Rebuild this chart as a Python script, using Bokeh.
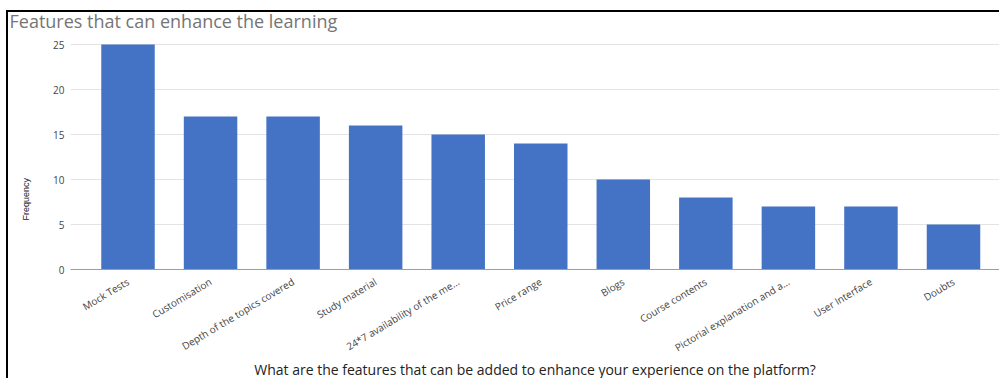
import math

from bokeh.embed import file_html
from bokeh.models import FixedTicker, InlineStyleSheet, Range1d, Title
from bokeh.plotting import figure
from bokeh.resources import INLINE

# Survey answers: features that would improve the learning platform
features = [
    "Mock Tests",
    "Customisation",
    "Depth of the topics covered",
    "Study material",
    "24*7 availability of the me...",
    "Price range",
    "Blogs",
    "Course contents",
    "Pictorial explanation and a...",
    "User Interface",
    "Doubts",
]
frequency = [25, 17, 17, 16, 15, 14, 10, 8, 7, 7, 5]
y_ticks = [0, 5, 10, 15, 20, 25]

chart_title = "Features that can enhance the learning"
x_title = "What are the features that can be added to enhance your experience on the platform?"
y_title = "Frequency"

# Canvas and plot-area geometry (pixels)
W, H = 999, 378
FRAME_LEFT, FRAME_TOP, FRAME_BOTTOM = 70, 35, 269
CAT_PX = 82.55          # pixels per category slot
FIRST_CENTER_PX = 127.5  # centre of the first bar
Y_PX = 9.0              # pixels per frequency unit

x_start = (FRAME_LEFT - FIRST_CENTER_PX) / CAT_PX
x_end = x_start + (W - FRAME_LEFT) / CAT_PX
y_end = (FRAME_BOTTOM - FRAME_TOP) / Y_PX

p = figure(
    width=W,
    height=H,
    output_backend="svg",
    toolbar_location=None,
    x_range=Range1d(x_start, x_end),
    y_range=Range1d(0, y_end),
    min_border_left=FRAME_LEFT,
    min_border_right=0,
    min_border_top=FRAME_TOP,
    min_border_bottom=H - FRAME_BOTTOM,
)
p.outline_line_color = None
p.background_fill_color = "white"
p.border_fill_color = "white"

idx = list(range(len(features)))
p.vbar(x=idx, top=frequency, bottom=0, width=0.648,
       fill_color="#4472C4", line_color=None)

# y axis
p.yaxis.ticker = FixedTicker(ticks=y_ticks)
p.yaxis.axis_line_color = None
p.yaxis.major_tick_line_color = None
p.yaxis.major_tick_out = 0
p.yaxis.major_tick_in = 0
p.yaxis.minor_tick_line_color = None
p.yaxis.minor_tick_out = 0
p.yaxis.major_label_text_font = "Open Sans"
p.yaxis.major_label_text_font_size = "10px"
p.yaxis.major_label_text_color = "#444444"
p.yaxis.major_label_standoff = 6

# x axis with the category names
p.xaxis.ticker = FixedTicker(ticks=idx)
p.xaxis.major_label_overrides = {i: name for i, name in zip(idx, features)}
p.xaxis.major_label_orientation = math.radians(31)
p.xaxis.axis_line_color = "#9e9e9e"
p.xaxis.axis_line_width = 1
p.xaxis.major_tick_line_color = None
p.xaxis.major_tick_out = 0
p.xaxis.major_tick_in = 0
p.xaxis.minor_tick_line_color = None
p.xaxis.minor_tick_out = 0
p.xaxis.major_label_text_font = "Open Sans"
p.xaxis.major_label_text_font_size = "10px"
p.xaxis.major_label_text_color = "#444444"
p.xaxis.major_label_standoff = 11

p.xgrid.visible = False
p.ygrid.ticker = FixedTicker(ticks=y_ticks)
p.ygrid.grid_line_color = "#e3e3e3"

# Chart title, top-left
p.title = Title(text=chart_title, align="left", offset=-61,
                text_font="Open Sans", text_font_size="18px",
                text_font_style="normal", text_color="#757575", standoff=6)

# Axis titles
p.add_layout(Title(text=x_title, align="center", offset=0,
                   text_font="Open Sans", text_font_size="14px",
                   text_font_style="normal", text_color="#222222",
                   standoff=-11), "below")
p.add_layout(Title(text=y_title, align="left", offset=49,
                   vertical_align="top",
                   text_font="Liberation Sans Narrow, Liberation Sans",
                   text_font_size="9px", text_font_style="normal",
                   text_color="#222222", standoff=36), "left")

# Black rule along the top and left of the chart panel
p.stylesheets = [InlineStyleSheet(css="""
:host::after {
  content: "";
  position: absolute;
  left: 6px; top: 10px; right: 0; bottom: 0;
  border-top: 2px solid #000;
  border-left: 2px solid #000;
  pointer-events: none;
}
""")]

open("out.html", "w").write(file_html(p, INLINE))
